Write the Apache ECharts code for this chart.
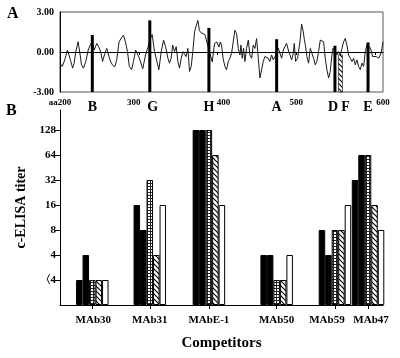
<!DOCTYPE html>
<html>
<head>
<meta charset="utf-8">
<script src="https://cdn.jsdelivr.net/npm/echarts@6/dist/echarts.min.js"></script>
<style>
html, body { margin: 0; padding: 0; background: #fff; }
#chart { width: 400px; height: 358px; }
</style>
</head>
<body>
<div id="chart"></div>
<script>
// A: hydropathy profile, [residue, value]
const profile = [
  [200,-0.84],[203,-1.08],[206,-0.59],[209.5,0.15],[211.6,0.08],[213.8,-0.71],[216,-1.21],[218,-0.84],
  [220,0.03],[223,0.77],[225.6,-0.22],[227.3,-0.96],[229.8,-1.21],[232.8,-0.71],[235.8,0.15],[238.3,0.52],
  [240.8,0.77],[243.4,0.15],[246.7,0.64],[249.7,0.32],[251.8,-0.02],[254,-0.71],[257,-0.1],[259.4,0.27],
  [262.5,-0.42],[264.5,-0.76],[267,-1.0],[269.6,-1.1],[272,-0.59],[275,0.77],[278,1.06],[280.6,1.26],
  [283,0.77],[285.7,0.03],[288,-1.08],[290.8,-1.33],[293.3,-0.71],[296,0.15],[298.4,0.1],[301,-0.5],
  [305,-1.26],[308.6,-0.22],[311.5,0.32],[314,0.9],[317,1.3],[320,0.03],[323,-0.71],[325.5,-1.33],
  [328.5,0.03],[331.4,0.89],[334,0.4],[337,-0.47],[339,-0.84],[341,-0.47],[343,0.52],[345.4,0.03],
  [347.5,0.4],[349.6,-0.71],[351.7,-1.21],[353.9,-0.47],[356,0.03],[358,0.15],[360,-0.34],[362.3,0.27],
  [364.4,-1.46],[366.6,-1.08],[368.6,0.03],[370.8,1.51],[373,2.0],[375,2.37],[377,1.6],[379,1.45],
  [381,1.55],[384,1.3],[388,0.4],[393.2,-0.74],[396.2,0.65],[399.1,0.75],[401.7,0.37],[403.4,0.75],
  [405,0.52],[407,-0.47],[409.3,-1.08],[411.4,-1.33],[413.6,-0.71],[415.7,-0.47],[417.8,-0.1],[419.9,0.77],
  [422,1.63],[424.1,1.38],[426.3,0.27],[428.4,-0.22],[429.6,0.52],[431.3,-0.47],[433,0.27],[434.7,-0.71],
  [436.8,0.27],[439,0.89],[441,-0.22],[443.2,-0.47],[445.3,0.52],[447.4,0.27],[449.5,1.01],[451.7,-0.47],
  [453.8,-1.95],[455.9,-1.33],[458,-0.71],[460.1,-0.34],[462.2,-0.22],[464.4,-0.47],[466.5,-0.71],[468.6,-0.22],
  [470.7,-0.59],[472.8,-0.34],[475,-0.1],[477,0.3],[479.2,0.27],[481.3,-0.47],[483.4,0.15],[485.5,0.4],
  [487.6,0.64],[489.8,0.15],[491.9,-0.22],[494,-0.59],[496.1,-0.1],[497.4,0.64],[499.1,-0.71],[501.6,-0.47],
  [504.6,0.77],[506.7,2.1],[508.8,1.51],[510,1.0],[511.5,0.5],[513.4,-0.34],[515.5,-0.84],[517.7,0.27],
  [519.8,0.4],[521.9,-0.47],[524,-0.96],[526.1,-0.71],[528.2,0.03],[530.4,0.89],[532.5,0.89],[534.6,0.77],
  [536.7,-0.47],[538.8,-1.33],[541,-1.95],[543,-1.46],[545.2,-0.22],[546.4,0.27],[549,0.1],[551.5,-0.22],
  [553.6,0.03],[555.8,-0.22],[557.9,0.27],[560,0.77],[562.1,1.01],[564.2,0.52],[566.3,-0.22],[568.5,-0.47],
  [570.6,-0.71],[572.7,-0.47],[574.8,-0.96],[576.9,-0.59],[579,-1.08],[581.2,-1.33],[583.3,-0.84],[585.4,-1.08],
  [587.5,0.03],[589.6,0.52],[593,0.4],[594.7,0.15],[596.8,-0.34],[599,-0.47],[601.5,-0.34],[604.4,-0.47],
  [606.6,-0.22],[608.7,0.27],[610,0.77]
];
const residueTicks = [200, 300, 400, 500, 600];

// epitopes marked on the sequence
const epitopes = ['B', 'G', 'H', 'A', 'D', 'F', 'E'];
const epitopePos = [241, 314, 389, 475, 549, 556, 591];
const epitopeTop = [1.28, 2.37, 1.81, 0.96, 0.47, -0.22, 0.72];

// B: competition c-ELISA titers (2 stands for "<4")
const competitors = ['MAb30', 'MAb31', 'MAbE-1', 'MAb50', 'MAb59', 'MAb47'];
const competitorEpitope = ['B', 'G', 'H', 'A', 'D', 'E'];
const titer1 = [2, 16, 128, 4, 8, 32];
const titer2 = [4, 8, 128, 4, 4, 64];
const titer3 = [2, 32, 128, 2, 8, 64];
const titer4 = [2, 4, 64, 2, 8, 16];
const titer5 = [2, 16, 16, 4, 16, 8];
const titerLabels = ['\u30084', '4', '8', '16', '32', '64', '128'];

const FONT = 'Liberation Serif';
const competitorPos = competitorEpitope.map(e => epitopePos[epitopes.indexOf(e)]);

// fill patterns
function makePattern(size, draw) {
  const c = document.createElement('canvas');
  c.width = c.height = size;
  const ctx = c.getContext('2d');
  ctx.fillStyle = '#fff';
  ctx.fillRect(0, 0, size, size);
  draw(ctx, size);
  return { image: c, repeat: 'repeat' };
}
const hatch = makePattern(5, (ctx, s) => {
  ctx.strokeStyle = '#000';
  ctx.lineWidth = 1.1;
  ctx.beginPath();
  ctx.moveTo(-1, -1); ctx.lineTo(s + 1, s + 1);
  ctx.moveTo(-1, s - 1); ctx.lineTo(1, s + 1);
  ctx.moveTo(s - 1, -1); ctx.lineTo(s + 1, 1);
  ctx.stroke();
});
const stipple = makePattern(3, (ctx, s) => {
  ctx.fillStyle = '#222';
  ctx.fillRect(0, 0, s, 1);
  ctx.fillRect(0, 0, 1, s);
});

// small nudges of the printed labels away from their ticks
const tickShift = { 300: -5, 400: 6, 600: 8 };
const letterShift = { G: 3, D: -2, F: 5 };
const nameShift = { MAb30: 1, MAb59: -8, MAb47: 3 };
function shifted(text, d) {
  if (!d) return text;
  const key = d > 0 ? 'r' + d : 'l' + (-d);
  return '{' + key + '|' + text + '}';
}
function shiftRich(base, shifts) {
  const rich = {};
  Object.values(shifts).forEach(d => {
    const key = d > 0 ? 'r' + d : 'l' + (-d);
    rich[key] = Object.assign({}, base, { padding: d > 0 ? [0, 0, 0, 2 * d] : [0, -2 * d, 0, 0] });
  });
  return rich;
}

const numStyle = { fontFamily: FONT, fontWeight: 'bold', fontSize: 9, color: '#000' };
const letterStyle = { fontFamily: FONT, fontWeight: 'bold', fontSize: 14, color: '#000' };
const nameStyle = { fontFamily: FONT, fontWeight: 'bold', fontSize: 11, color: '#000' };

const chart = echarts.init(document.getElementById('chart'), null, { renderer: 'canvas' });

const titerSeries = [titer1, titer2, titer3, titer4, titer5];
const fills = ['#000', '#000', stipple, hatch, '#fff'];

chart.setOption({
  animation: false,
  backgroundColor: '#fff',
  grid: [
    { left: 60, right: 17, top: 12, height: 80, show: true, borderColor: '#555', borderWidth: 1 },
    { left: 60, right: 17, top: 110, height: 195 }
  ],
  xAxis: [
    {
      gridIndex: 0, type: 'value', min: 200, max: 610,
      axisLine: { lineStyle: { color: '#000', width: 1 } },
      axisTick: { customValues: residueTicks, length: 3, lineStyle: { color: '#000' } },
      axisLabel: Object.assign({}, numStyle, {
        customValues: residueTicks, margin: 6, hideOverlap: false,
        formatter: v => shifted(v === 200 ? 'aa200' : String(v), tickShift[v]),
        rich: shiftRich(numStyle, tickShift)
      }),
      splitLine: { show: false }
    },
    {
      gridIndex: 0, type: 'value', min: 200, max: 610, position: 'bottom',
      axisLine: { show: false }, axisTick: { show: false },
      axisLabel: Object.assign({}, letterStyle, {
        customValues: epitopePos, margin: 8, hideOverlap: false,
        formatter: v => {
          const e = epitopes[epitopePos.indexOf(v)];
          return shifted(e, letterShift[e]);
        },
        rich: shiftRich(letterStyle, letterShift)
      }),
      splitLine: { show: false }
    },
    {
      gridIndex: 1, type: 'value', min: 200, max: 610,
      axisLine: { lineStyle: { color: '#000', width: 1 } },
      axisTick: { customValues: competitorPos, length: 4, lineStyle: { color: '#000' } },
      axisLabel: Object.assign({}, nameStyle, {
        customValues: competitorPos, margin: 10, hideOverlap: false,
        formatter: v => {
          const n = competitors[competitorPos.indexOf(v)];
          return shifted(n, nameShift[n]);
        },
        rich: shiftRich(nameStyle, nameShift)
      }),
      splitLine: { show: false },
      name: 'Competitors', nameLocation: 'middle', nameGap: 31,
      nameTextStyle: { fontFamily: FONT, fontWeight: 'bold', fontSize: 15, color: '#000' }
    }
  ],
  yAxis: [
    {
      gridIndex: 0, type: 'value', min: -3, max: 3, interval: 3,
      axisLine: { show: true, lineStyle: { color: '#000', width: 1 } },
      axisTick: { show: false },
      axisLabel: {
        margin: 6, formatter: v => v.toFixed(2),
        fontFamily: FONT, fontWeight: 'bold', fontSize: 10, color: '#000'
      },
      splitLine: { show: false }
    },
    {
      gridIndex: 1, type: 'value', min: 0, max: 7.8,
      axisLine: { show: true, lineStyle: { color: '#000', width: 1 } },
      axisTick: { customValues: [1, 2, 3, 4, 5, 6, 7], length: 6, lineStyle: { color: '#000' } },
      axisLabel: {
        customValues: [1, 2, 3, 4, 5, 6, 7], margin: 4, hideOverlap: false,
        formatter: v => titerLabels[v - 1],
        fontFamily: FONT, fontWeight: 'bold', fontSize: 11, color: '#000'
      },
      splitLine: { show: false },
      name: 'c-ELISA titer', nameLocation: 'middle', nameGap: 32,
      nameTextStyle: { fontFamily: FONT, fontWeight: 'bold', fontSize: 14, color: '#000' }
    }
  ],
  graphic: [
    { type: 'text', left: 7, top: 6, style: { text: 'A', font: 'bold 16px "Liberation Serif"', fill: '#000' } },
    { type: 'text', left: 6, top: 103, style: { text: 'B', font: 'bold 16px "Liberation Serif"', fill: '#000' } }
  ],
  series: [
    {
      type: 'line', xAxisIndex: 0, yAxisIndex: 0,
      data: profile, showSymbol: false, symbol: 'none',
      lineStyle: { color: '#1a1a1a', width: 1 },
      z: 2,
      markLine: {
        silent: true, symbol: ['none', 'none'], label: { show: false },
        lineStyle: { color: '#000', width: 1, type: 'solid' },
        data: [{ yAxis: 0 }]
      }
    },
    {
      type: 'custom', xAxisIndex: 0, yAxisIndex: 0, z: 3,
      data: epitopePos.map((p, i) => [p, epitopeTop[i], i]),
      renderItem: (params, api) => {
        const top = api.coord([api.value(0), api.value(1)]);
        const bottom = api.coord([api.value(0), -3]);
        const isF = epitopes[api.value(2)] === 'F';
        const w = isF ? 4 : 3;
        return {
          type: 'rect',
          shape: { x: top[0] - w / 2, y: top[1], width: w, height: bottom[1] - top[1] },
          style: isF ? { fill: hatch, stroke: '#000', lineWidth: 0.6 } : { fill: '#000' }
        };
      }
    }
  ].concat(titerSeries.map((arr, k) => ({
    type: 'bar', xAxisIndex: 2, yAxisIndex: 1,
    barWidth: 6.5, barGap: '0%', clip: false,
    data: arr.map((t, i) => [competitorPos[i], Math.log2(t)]),
    itemStyle: { color: fills[k], borderColor: '#000', borderWidth: 1 }
  })))
});
</script>
</body>
</html>
